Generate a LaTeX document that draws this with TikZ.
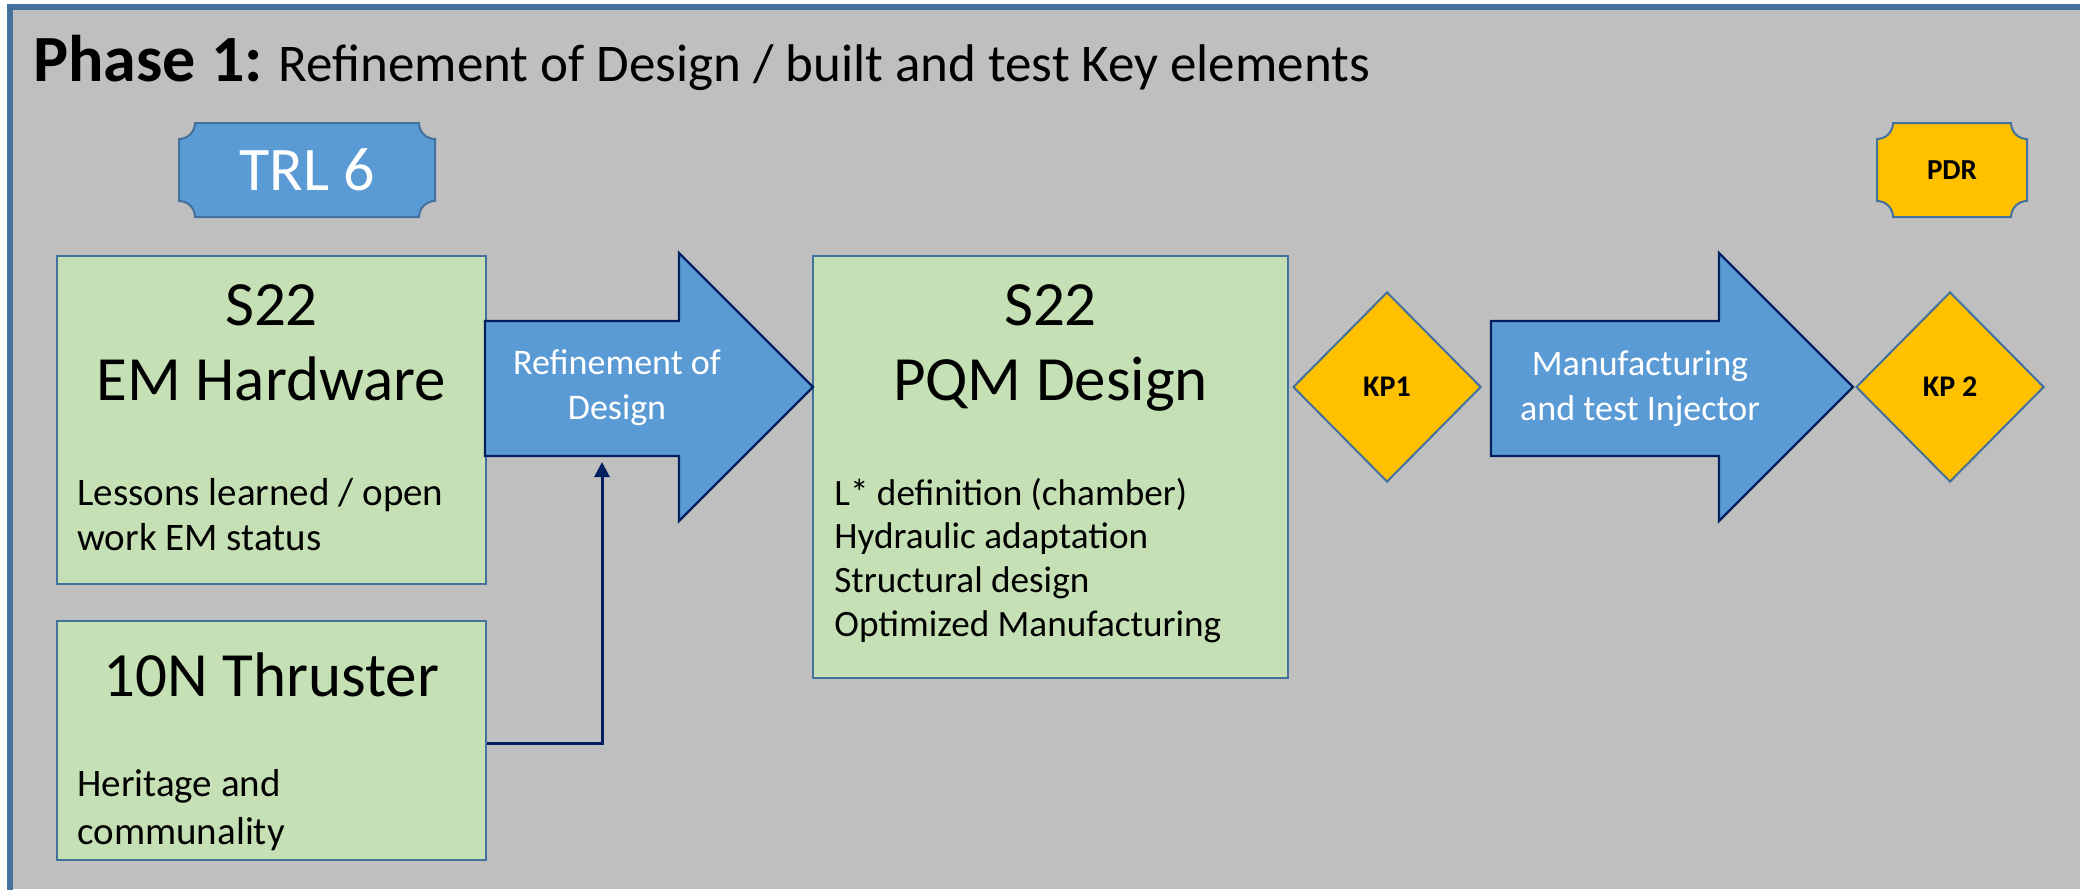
\documentclass[tikz,border=0pt]{standalone}
\usepackage{fontspec}
\setmainfont{Carlito}
\usetikzlibrary{arrows.meta,shapes.geometric}
\definecolor{bg}{HTML}{BFBFBF}
\definecolor{framec}{HTML}{41719C}
\definecolor{gfill}{HTML}{C5E0B4}
\definecolor{bfill}{HTML}{5B9BD5}
\definecolor{navy}{HTML}{002060}
\definecolor{gold}{HTML}{FFC000}
\begin{document}
\begin{tikzpicture}[x=0.5pt,y=-0.5pt,
  gbox/.style={rectangle,draw=framec,line width=1.1pt,fill=gfill,inner sep=0pt},
  big/.style={font=\fontsize{31.5}{37.5}\selectfont,inner sep=0pt,anchor=base},
  small/.style={font=\fontsize{19.5}{22}\selectfont,inner sep=0pt,anchor=base west},
  list/.style={font=\fontsize{18.6}{22}\selectfont,inner sep=0pt,anchor=base west},
  arrowshape/.style={draw=navy,line width=1.2pt,fill=bfill,line join=miter},
  arrowtext/.style={font=\fontsize{18}{22.5}\selectfont,text=white,align=center,inner sep=0pt},
  plq/.style={draw=framec,line width=1pt},
  kp/.style={diamond,draw=framec,line width=1pt,fill=gold,inner sep=0pt,
    minimum width=94pt,minimum height=95pt,font=\fontsize{15}{18}\selectfont\bfseries},
  conn/.style={draw=navy,line width=1.5pt,-{Triangle[length=7.5pt,width=7.5pt]}}]
\useasboundingbox (0,0) rectangle (2080,889);
\clip (0,0) rectangle (2080,889);
\fill[white] (0,0) rectangle (2080,889);
% outer frame: only its top and left sides lie inside the picture
\fill[bg] (10,7) rectangle (2080,889);
\draw[draw=framec,line width=2.6pt] (10,900) -- (10,7) -- (2090,7);
% title
\node[anchor=base west,inner sep=0pt] (title) at (33,81)
  {{\bfseries\fontsize{33}{40}\selectfont Phase 1:}\fontsize{26.5}{32}\selectfont{} Refinement of Design / built and test Key elements};
% TRL 6 plaque
\path[plq,fill=bfill] (195,123) -- (419,123) arc[start angle=180,end angle=270,radius=8pt]
  -- (435,201) arc[start angle=90,end angle=180,radius=8pt]
  -- (195,217) arc[start angle=0,end angle=90,radius=8pt]
  -- (179,139) arc[start angle=270,end angle=360,radius=8pt] -- cycle;
\node[font=\fontsize{31}{37}\selectfont,text=white,inner sep=0pt] (trl) at (307,170) {TRL 6};
% PDR plaque
\path[plq,fill=gold] (1893,123) -- (2011,123) arc[start angle=180,end angle=270,radius=8pt]
  -- (2027,201) arc[start angle=90,end angle=180,radius=8pt]
  -- (1893,217) arc[start angle=0,end angle=90,radius=8pt]
  -- (1877,139) arc[start angle=270,end angle=360,radius=8pt] -- cycle;
\node[font=\fontsize{14.5}{17}\selectfont\bfseries,inner sep=0pt] (pdr) at (1952,170) {PDR};
% boxes
\node[gbox,minimum width=214.5pt,minimum height=164pt] (em) at (271.5,420) {};
\node[gbox,minimum width=214.5pt,minimum height=119.5pt] (thr) at (271.5,740.5) {};
\node[gbox,minimum width=237.5pt,minimum height=211pt] (pqm) at (1050.5,467) {};
% box texts
\node[big] (emA) at (271.5,325) {S22};
\node[big] (emB) at (271.5,400) {EM Hardware};
\node[small] (emC) at (77,505) {Lessons learned / open};
\node[small] (emD) at (77,550) {work EM status};
\node[big] (thrA) at (271.5,696) {10N Thruster};
\node[small] (thrB) at (77,796) {Heritage and};
\node[small] (thrC) at (77,844) {communality};
\node[big] (pqmA) at (1050.5,325) {S22};
\node[big] (pqmB) at (1050.5,400) {PQM Design};
\node[list] (pqmC) at (834,505) {L* definition (chamber)};
\node[list] (pqmD) at (834,548) {Hydraulic adaptation};
\node[list] (pqmE) at (834,592) {Structural design};
\node[list] (pqmF) at (834,636) {Optimized Manufacturing};
% block arrows
\path[arrowshape] (485,321) -- (679,321) -- (679,253) -- (813,387) -- (679,521) -- (679,456) -- (485,456) -- cycle;
\node[arrowtext] (ref) at (617,388) {Refinement of\\Design};
\path[arrowshape] (1491,321) -- (1719,321) -- (1719,253) -- (1853,387) -- (1719,521) -- (1719,456) -- (1491,456) -- cycle;
\node[arrowtext] (man) at (1640,389) {Manufacturing\\and test Injector};
% diamonds
\node[kp] (kp1) at (1387,387) {KP1};
\node[kp] (kp2) at (1950,387) {KP 2};
% connector
\coordinate (yc) at (0,743);
\coordinate (up) at (602,462);
\draw[conn] (thr.east |- yc) -| (up);
\end{tikzpicture}
\end{document}
